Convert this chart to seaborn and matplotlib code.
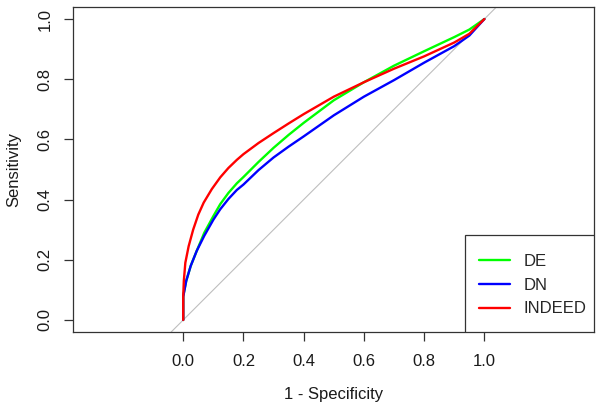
import pandas as pd
import matplotlib.pyplot as plt
import seaborn as sns
from matplotlib.patches import Rectangle

# ROC curve points (x = 1 - specificity, y = sensitivity)
de_fpr = [0, 0.0, 0.01, 0.025, 0.045, 0.07, 0.1, 0.123, 0.15, 0.178, 0.2, 0.25, 0.3, 0.35, 0.4, 0.5, 0.6, 0.7, 0.8, 0.9, 0.95, 1.0]
de_tpr = [0, 0.08, 0.13, 0.18, 0.23, 0.29, 0.345, 0.385, 0.422, 0.454, 0.475, 0.525, 0.572, 0.615, 0.655, 0.73, 0.79, 0.845, 0.893, 0.94, 0.965, 1.0]

dn_fpr = [0, 0.0, 0.01, 0.025, 0.045, 0.07, 0.1, 0.123, 0.15, 0.178, 0.2, 0.25, 0.3, 0.35, 0.4, 0.5, 0.6, 0.7, 0.8, 0.9, 0.95, 1.0]
dn_tpr = [0, 0.077, 0.13, 0.18, 0.23, 0.28, 0.333, 0.368, 0.402, 0.432, 0.45, 0.498, 0.54, 0.576, 0.61, 0.68, 0.742, 0.797, 0.855, 0.91, 0.945, 1.0]

indeed_fpr = [0, 0, 0.002, 0.007, 0.018, 0.033, 0.05, 0.068, 0.095, 0.123, 0.15, 0.178, 0.2, 0.25, 0.3, 0.35, 0.4, 0.5, 0.6, 0.7, 0.8, 0.9, 0.95, 1.0]
indeed_tpr = [0, 0.08, 0.13, 0.19, 0.245, 0.30, 0.35, 0.39, 0.435, 0.474, 0.505, 0.532, 0.551, 0.588, 0.621, 0.653, 0.684, 0.742, 0.79, 0.835, 0.876, 0.922, 0.951, 1.0]

methods = ['DE', 'DN', 'INDEED']
colors = ['#00ff00', '#0000ff', '#ff0000']
x_ticks = [0.0, 0.2, 0.4, 0.6, 0.8, 1.0]
y_ticks = [0.0, 0.2, 0.4, 0.6, 0.8, 1.0]

# long table for seaborn
frames = []
for name, fpr, tpr in zip(methods, [de_fpr, dn_fpr, indeed_fpr], [de_tpr, dn_tpr, indeed_tpr]):
    frames.append(pd.DataFrame({'fpr': fpr, 'tpr': tpr, 'method': name}))
df = pd.concat(frames, ignore_index=True)

sns.set_theme(style="white")
plt.rcParams['font.family'] = ['Liberation Sans', 'DejaVu Sans']

fig = plt.figure(figsize=(6.02, 4.09), dpi=100)
ax = fig.add_axes([73 / 602, 1 - 332 / 409, (594 - 73) / 602, (332 - 7) / 409])

# chance diagonal
ax.axline((0, 0), (1, 1), color='#bebebe', lw=0.8, zorder=1)

sns.lineplot(data=df, x='fpr', y='tpr', hue='method', hue_order=methods,
             palette=dict(zip(methods, colors)), estimator=None,
             sort=False, lw=1.7, ax=ax, legend=True)

ax.set_xlim(-0.366, 1.364)
ax.set_ylim(-0.04, 1.04)
ax.set_xticks(x_ticks)
ax.set_yticks(y_ticks)
ax.set_xticklabels([f'{t:.1f}' for t in x_ticks], fontsize=12)
ax.set_yticklabels([f'{t:.1f}' for t in y_ticks], fontsize=12, rotation=90, va='center')
ax.tick_params(axis='both', direction='out', length=6.5, width=0.9, color='#333333',
               bottom=True, left=True, labelcolor='#1a1a1a')
ax.tick_params(axis='x', pad=9)
ax.tick_params(axis='y', pad=8)
ax.set_xlabel('1 - Specificity', fontsize=12, labelpad=13, color='#1a1a1a')
ax.set_ylabel('Sensitivity', fontsize=12, labelpad=12, color='#1a1a1a')
for sp in ax.spines.values():
    sp.set_color('#333333')
    sp.set_linewidth(0.9)

# legend box in the bottom right corner, R style
box_w = 129 / 521
box_h = 97 / 325
ax.add_patch(Rectangle((1 - box_w, 0), box_w, box_h, transform=ax.transAxes,
                       facecolor='white', edgecolor='#333333', lw=0.9, zorder=4))
handles, labels = ax.get_legend_handles_labels()
for h in handles:
    h.set_linewidth(1.7)
leg = ax.legend(handles, labels, loc='center', bbox_to_anchor=(0.882, 0.1446),
                fontsize=12, frameon=False, borderaxespad=0, borderpad=0,
                handlelength=1.86, handletextpad=0.84, labelspacing=0.53)
leg.set_zorder(5)

plt.savefig('out.png', dpi=100)
